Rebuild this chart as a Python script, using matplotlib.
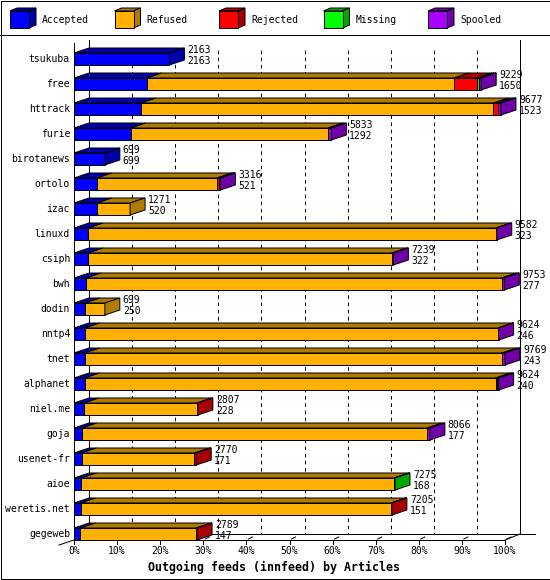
import numpy as np
import matplotlib
matplotlib.use("Agg")
import matplotlib.pyplot as plt
from matplotlib.patches import Polygon, Rectangle

# données (articles)
hosts = ["tsukuba", "free", "httrack", "furie", "birotanews", "ortolo", "izac",
         "linuxd", "csiph", "bwh", "dodin", "nntp4", "tnet", "alphanet",
         "niel.me", "goja", "usenet-fr", "aioe", "weretis.net", "gegeweb"]
totals = [2163, 9229, 9677, 5833, 699, 3316, 1271, 9582, 7239, 9753, 699,
          9624, 9769, 9624, 2807, 8066, 2770, 7275, 7205, 2789]
accepted = [2163, 1650, 1523, 1292, 699, 521, 520, 323, 322, 277, 250,
            246, 243, 240, 228, 177, 171, 168, 151, 147]
refused = [0, 6963, 7984, 4466, 0, 2720, 751, 9239, 6877, 9416, 449,
           9358, 9456, 9314, 2554, 7829, 2559, 7087, 7034, 2622]
rejected = [0, 521, 110, 0, 0, 40, 0, 0, 0, 0, 0, 0, 0, 45, 25, 0, 40, 0, 20, 20]
missing = [0, 45, 0, 0, 0, 0, 0, 0, 0, 0, 0, 0, 0, 0, 0, 0, 0, 20, 0, 0]
spooled = [0, 50, 60, 75, 0, 35, 0, 20, 40, 60, 0, 20, 70, 25, 0, 60, 0, 0, 0, 0]

series = ["Accepted", "Refused", "Rejected", "Missing", "Spooled"]
front_cols = ["#0000ff", "#ffb000", "#ff0000", "#00ff00", "#a800ff"]
dark_cols = ["#0000a8", "#b07c00", "#a80000", "#00a800", "#7000a8"]
ticks = np.arange(0, 101, 10)

FONT = "DejaVu Sans Mono"
PX = 0.72  # 1 pixel en points

fig = plt.figure(figsize=(5.5, 5.8), dpi=100)
fig.patch.set_facecolor("white")

# calque "pixels" pour cadre et légende
bg = fig.add_axes([0, 0, 1, 1])
bg.set_xlim(0, 550)
bg.set_ylim(580, 0)
bg.axis("off")
bg.add_patch(Rectangle((0.5, 0.5), 549, 578.5, fill=False, ec="black", lw=PX))
bg.plot([0, 550], [35, 35], color="black", lw=PX)

for k, name in enumerate(series):
    x0 = 10 + 104.5 * k
    bg.add_patch(Polygon([(x0, 11), (x0 + 19, 11), (x0 + 26, 8), (x0 + 7, 8)],
                         fc=dark_cols[k], ec="black", lw=PX))
    bg.add_patch(Polygon([(x0 + 19, 11), (x0 + 26, 8), (x0 + 26, 25), (x0 + 19, 28)],
                         fc=dark_cols[k], ec="black", lw=PX))
    bg.add_patch(Rectangle((x0, 11), 19, 17, fc=front_cols[k], ec="black", lw=PX))
    bg.text(x0 + 32, 20, name, family=FONT, fontsize=7, va="center", ha="left")

# axes des données : plan avant 0..100 %, une ligne par serveur
n = len(hosts)
ax = fig.add_axes([74 / 550, 1 - 534 / 580, 431 / 550, 475 / 580])
ax.set_xlim(0, 100)
ax.set_ylim(n - 1, 0)
ax.axis("off")

px_x = 100 / 431.0   # un pixel en %
px_y = 1 / 25.0      # un pixel en lignes
dx, dy = 15 * px_x, 5 * px_y
hh = 6 * px_y
ytop, yback, yfront = -19 * px_y, (n - 1) + 0 * px_y, (n - 1) + 6 * px_y

# murs / grille
kw = dict(color="black", lw=PX, clip_on=False, zorder=1)
ax.plot([0, 0], [-16 * px_y, yfront], **kw)
ax.plot([dx, dx], [ytop, yback], **kw)
ax.plot([100 + dx, 100 + dx], [ytop, yback], **kw)
ax.plot([dx, 107], [yback, yback], **kw)
ax.plot([0, 100], [yfront, yfront], **kw)
ax.plot([0, -dx], [yfront, yfront + 5 * px_y], **kw)
ax.plot([100, 100 + dx], [yfront, yback], **kw)
for t in ticks[1:-1]:
    ax.plot([t + dx, t + dx], [-9 * px_y, yback], color="black", lw=PX,
            ls=(0, (3.6, 3.6)), clip_on=False, zorder=1)
for t in ticks:
    ax.plot([t, t], [yfront, yfront + 4 * px_y], **kw)
    if t > 0:
        ax.plot([t + 2 * px_x, t + 6 * px_x], [yfront - 1 * px_y, yfront - 3 * px_y], **kw)
    ax.text(t, yfront + 11 * px_y, f"{t}%", family=FONT, fontsize=7,
            ha="center", va="center", clip_on=False)

# barres 3D
scale = 100.0 / max(totals)
data = np.array([accepted, refused, rejected, missing, spooled], dtype=float)
for i in range(n):
    c0 = 0.0
    last = 0
    for s in range(len(series)):
        w = data[s, i] * scale
        if w <= 0:
            continue
        c1 = c0 + w
        y0, y1 = i - hh, i + hh
        ax.add_patch(Polygon([(c0, y0), (c1, y0), (c1 + dx, y0 - dy), (c0 + dx, y0 - dy)],
                             fc=dark_cols[s], ec="black", lw=PX, clip_on=False, zorder=3))
        ax.add_patch(Rectangle((c0, y0), w, y1 - y0, fc=front_cols[s], ec="black",
                               lw=PX, clip_on=False, zorder=3))
        last = s
        c0 = c1
    y0, y1 = i - hh, i + hh
    ax.add_patch(Polygon([(c0, y0), (c0 + dx, y0 - dy), (c0 + dx, y1 - dy), (c0, y1)],
                         fc=dark_cols[last], ec="black", lw=PX, clip_on=False, zorder=3))
    tx = totals[i] * scale + dx + 3 * px_x
    ax.text(tx, i - 9 * px_y, str(totals[i]), family=FONT, fontsize=7,
            ha="left", va="center", clip_on=False, zorder=4)
    ax.text(tx, i + 2 * px_y, str(accepted[i]), family=FONT, fontsize=7,
            ha="left", va="center", clip_on=False, zorder=4)
    ax.text(-4 * px_x, i, hosts[i], family=FONT, fontsize=7,
            ha="right", va="center", clip_on=False)

fig.text(274 / 550, 1 - 567 / 580, "Outgoing feeds (innfeed) by Articles",
         family=FONT, fontsize=8.4, fontweight="bold", ha="center", va="center")

fig.savefig("out.png", dpi=100)
